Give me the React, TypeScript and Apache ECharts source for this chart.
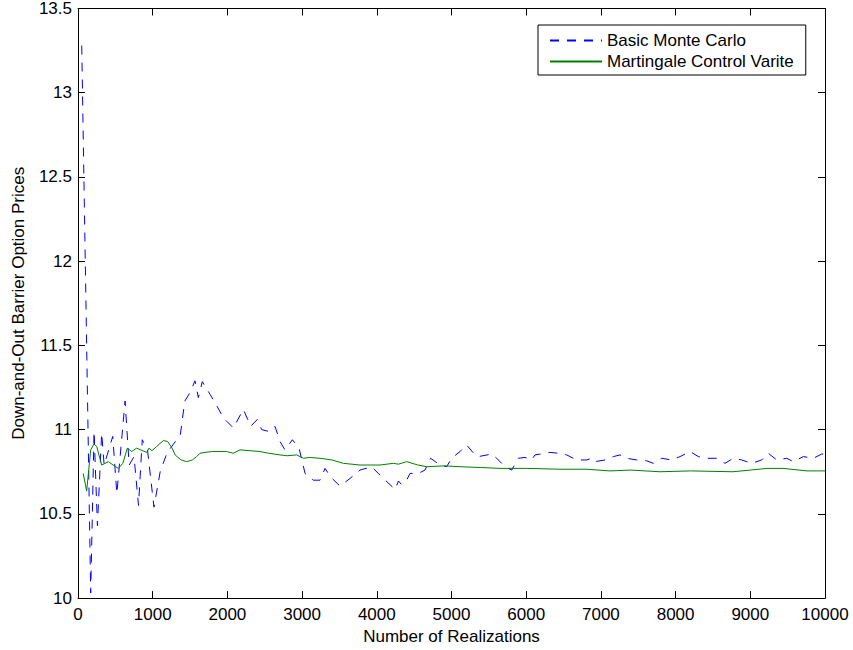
import React, { useEffect, useRef } from "react";
import * as echarts from "echarts";

const xTicks = [0, 1000, 2000, 3000, 4000, 5000, 6000, 7000, 8000, 9000, 10000];
const yTicks = [10, 10.5, 11, 11.5, 12, 12.5, 13, 13.5];

const seriesNames = ["Basic Monte Carlo", "Martingale Control Varite"];

const basicMonteCarlo: [number, number][] = [
  [50, 13.28], [170, 10.03], [215, 10.99], [260, 10.43], [317, 10.98], [350, 10.79],
  [465, 10.96], [520, 10.62], [630, 11.17], [685, 10.79], [750, 10.84], [810, 10.55],
  [860, 10.94], [930, 10.88], [1017, 10.54], [1100, 10.75], [1190, 10.86], [1320, 10.94],
  [1370, 10.97], [1430, 11.17], [1500, 11.22], [1566, 11.29], [1611, 11.19], [1664, 11.285],
  [1767, 11.21], [1860, 11.14], [1946, 11.07], [2080, 11.01], [2213, 11.12], [2312, 11.02],
  [2400, 11.06], [2459, 11.0], [2550, 10.99], [2637, 11.02], [2704, 10.93], [2770, 10.88],
  [2870, 10.94], [2959, 10.89], [3040, 10.74], [3150, 10.7], [3240, 10.7], [3307, 10.77],
  [3380, 10.72], [3507, 10.665], [3641, 10.71], [3775, 10.76], [3930, 10.78], [4066, 10.72],
  [4244, 10.645], [4290, 10.695], [4330, 10.675], [4400, 10.7], [4444, 10.74], [4555, 10.74],
  [4645, 10.76], [4720, 10.83], [4846, 10.79], [4935, 10.78], [5002, 10.83], [5114, 10.87],
  [5200, 10.91], [5315, 10.85], [5359, 10.84], [5538, 10.855], [5605, 10.83], [5716, 10.78],
  [5806, 10.76], [5894, 10.83], [5984, 10.835], [6073, 10.82], [6118, 10.85], [6319, 10.865],
  [6430, 10.86], [6542, 10.85], [6676, 10.82], [6810, 10.82], [6877, 10.83], [6921, 10.81],
  [7055, 10.82], [7166, 10.84], [7256, 10.85], [7345, 10.83], [7479, 10.82], [7613, 10.815],
  [7702, 10.8], [7814, 10.83], [7948, 10.82], [8059, 10.84], [8193, 10.87], [8304, 10.84],
  [8416, 10.83], [8550, 10.83], [8661, 10.8], [8772, 10.83], [8885, 10.82], [9018, 10.8],
  [9152, 10.82], [9241, 10.86], [9353, 10.82], [9487, 10.83], [9576, 10.81], [9710, 10.84],
  [9844, 10.83], [9955, 10.855], [10000, 10.855],
];

const martingaleControl: [number, number][] = [
  [70, 10.74], [116, 10.635], [170, 10.88], [214, 10.915], [250, 10.9], [317, 10.79],
  [406, 10.81], [470, 10.79], [540, 10.77], [600, 10.8], [660, 10.89], [718, 10.87],
  [785, 10.89], [920, 10.865], [950, 10.89], [990, 10.875], [1053, 10.9], [1142, 10.935],
  [1200, 10.93], [1260, 10.89], [1300, 10.85], [1380, 10.82], [1455, 10.81], [1530, 10.82],
  [1589, 10.84], [1633, 10.86], [1700, 10.865], [1800, 10.87], [1900, 10.87], [1990, 10.87],
  [2079, 10.86], [2169, 10.88], [2302, 10.875], [2437, 10.87], [2550, 10.86], [2704, 10.85],
  [2800, 10.845], [2928, 10.85], [3017, 10.83], [3100, 10.835], [3240, 10.83], [3400, 10.82],
  [3552, 10.8], [3775, 10.79], [4043, 10.79], [4221, 10.8], [4290, 10.795], [4400, 10.81],
  [4550, 10.79], [4668, 10.78], [4900, 10.785], [5114, 10.78], [5400, 10.775], [5649, 10.77],
  [6007, 10.77], [6452, 10.765], [6800, 10.765], [7122, 10.755], [7400, 10.76], [7791, 10.75],
  [8200, 10.755], [8768, 10.75], [9000, 10.76], [9224, 10.77], [9438, 10.77], [9759, 10.755],
  [10000, 10.755],
];

const FONT = "Liberation Sans";

export default function App() {
  const ref = useRef<HTMLDivElement>(null);
  useEffect(() => {
    document.body.style.margin = "0";
    const chart = echarts.init(ref.current!, null, { renderer: "svg" });
    const axisCommon = {
      axisLine: { show: true, onZero: false, lineStyle: { color: "#000", width: 1 } },
      axisTick: { show: true, inside: true, length: 7, lineStyle: { color: "#000", width: 1 } },
      splitLine: { show: false },
    };
    const plain = (v: number) => String(v);
    chart.setOption({
      animation: false,
      backgroundColor: "#fff",
      textStyle: { fontFamily: FONT },
      grid: { left: 78, right: 28, top: 8, bottom: 49, containLabel: false },
      legend: {
        orient: "vertical",
        left: 538,
        top: 25,
        data: seriesNames,
        backgroundColor: "#fff",
        borderColor: "#000",
        borderWidth: 1,
        borderRadius: 0,
        padding: [7, 12, 5, 11],
        itemWidth: 52,
        itemHeight: 17,
        itemGap: 4,
        itemStyle: { opacity: 0 },
        textStyle: { fontFamily: FONT, fontSize: 17, color: "#000", lineHeight: 17 },
      },
      xAxis: [
        {
          type: "value",
          min: xTicks[0],
          max: xTicks[xTicks.length - 1],
          interval: 1000,
          position: "bottom",
          name: "Number of Realizations",
          nameLocation: "middle",
          nameGap: 29,
          nameTextStyle: { fontFamily: FONT, fontSize: 17, color: "#000" },
          axisLabel: { margin: 8, fontFamily: FONT, fontSize: 17, color: "#000", formatter: plain },
          ...axisCommon,
        },
        {
          type: "value",
          min: xTicks[0],
          max: xTicks[xTicks.length - 1],
          interval: 1000,
          position: "top",
          axisLabel: { show: false },
          ...axisCommon,
        },
      ],
      yAxis: [
        {
          type: "value",
          min: yTicks[0],
          max: yTicks[yTicks.length - 1],
          interval: 0.5,
          position: "left",
          name: "Down-and-Out Barrier Option Prices",
          nameLocation: "middle",
          nameGap: 51,
          nameTextStyle: { fontFamily: FONT, fontSize: 17, color: "#000" },
          axisLabel: { margin: 6, fontFamily: FONT, fontSize: 17, color: "#000", formatter: plain },
          ...axisCommon,
        },
        {
          type: "value",
          min: yTicks[0],
          max: yTicks[yTicks.length - 1],
          interval: 0.5,
          position: "right",
          axisLabel: { show: false },
          ...axisCommon,
        },
      ],
      series: [
        {
          name: seriesNames[0],
          type: "line",
          data: basicMonteCarlo,
          symbol: "none",
          smooth: false,
          lineStyle: { color: "#0000ff", width: 1, type: [9, 8] },
          itemStyle: { color: "#0000ff" },
        },
        {
          name: seriesNames[1],
          type: "line",
          data: martingaleControl,
          symbol: "none",
          smooth: false,
          lineStyle: { color: "#008000", width: 1, type: "solid" },
          itemStyle: { color: "#008000" },
        },
      ],
    });
    return () => chart.dispose();
  }, []);
  return <div ref={ref} style={{ width: 853, height: 650 }} />;
}
